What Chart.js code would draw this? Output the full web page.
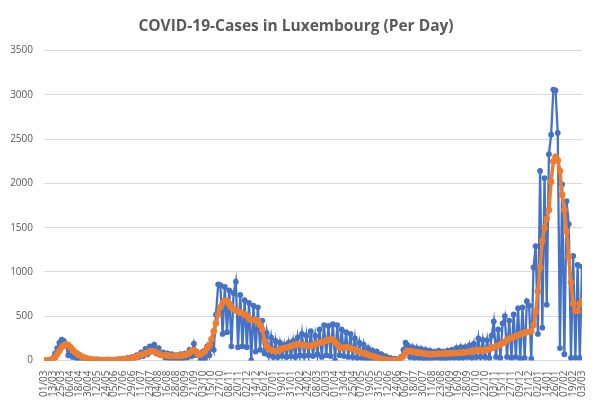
<!DOCTYPE html>
<html lang="en">
<head>
  <meta charset="UTF-8">
  <title>COVID-19-Cases in Luxembourg (Per Day)</title>
  <script src="https://cdn.jsdelivr.net/npm/chart.js"></script>
  <style>
    html, body {
      margin: 0;
      background: #fff;
    }
    #chartContainer {
      width: 597px;
      height: 405px;
    }
  </style>
</head>
<body>

<div id="chartContainer">
  <canvas id="casesChart" width="597" height="405"></canvas>
</div>

<script>
// one sample every 3 days, starting 01/03/2020
const dayStep = 3;

// daily cases (blue)
const dailyCases = [
  0, 0, 2, 5, 25, 80, 140, 200, 235, 220,
  170, 60, 150, 40, 90, 20, 60, 15, 30, 10,
  20, 5, 10, 3, 12, 2, 8, 5, 3, 8,
  5, 2, 10, 5, 15, 8, 20, 10, 30, 25,
  40, 20, 60, 40, 90, 50, 130, 70, 160, 120,
  180, 80, 140, 60, 90, 30, 80, 20, 70, 10,
  60, 20, 70, 10, 80, 30, 120, 50, 190, 60,
  80, 0, 100, 20, 160, 60, 220, 120, 520, 860,
  850, 300, 830, 320, 790, 160, 760, 890, 150, 740,
  160, 680, 150, 650, 0, 620, 100, 600, 120, 450,
  80, 310, 60, 260, 40, 220, 40, 200, 50, 180,
  40, 200, 50, 220, 40, 260, 60, 300, 50, 280,
  60, 330, 50, 280, 70, 350, 40, 400, 60, 390,
  50, 410, 0, 400, 60, 350, 50, 320, 40, 300,
  40, 250, 30, 200, 30, 180, 20, 140, 20, 110,
  15, 100, 10, 70, 10, 50, 5, 30, 5, 20,
  10, 20, 40, 120, 200, 170, 40, 150, 30, 140,
  30, 130, 20, 120, 20, 110, 20, 100, 30, 110,
  20, 100, 20, 110, 30, 120, 30, 140, 30, 150,
  30, 150, 40, 170, 30, 190, 40, 250, 40, 230,
  40, 230, 30, 280, 440, 40, 350, 30, 420, 500,
  40, 450, 30, 520, 40, 590, 20, 600, 30, 670,
  620, 20, 1050, 1290, 300, 2140, 370, 2060, 630, 2330,
  2550, 3060, 3050, 2570, 140, 1990, 70, 1800, 1540, 30,
  1180, 30, 1080, 30, 1060
];

// 7-day average (orange)
const averageCases = [
  0, 0, 1, 3, 10, 30, 70, 110, 150, 170,
  182, 175, 150, 120, 95, 75, 60, 45, 35, 25,
  18, 12, 10, 8, 7, 6, 5, 5, 5, 5,
  5, 5, 6, 7, 8, 10, 12, 15, 20, 25,
  30, 38, 45, 55, 65, 72, 80, 90, 100, 105,
  100, 90, 75, 65, 60, 58, 55, 52, 50, 50,
  50, 52, 55, 55, 60, 70, 85, 105, 115, 100,
  65, 70, 85, 105, 140, 170, 240, 330, 420, 520,
  600, 650, 675, 670, 640, 600, 580, 565, 555, 540,
  530, 520, 505, 470, 460, 455, 460, 440, 400, 350,
  220, 160, 130, 120, 110, 105, 110, 120, 130, 140,
  145, 150, 160, 170, 180, 182, 180, 175, 170, 165,
  163, 165, 170, 180, 190, 200, 205, 215, 225, 230,
  238, 235, 210, 182, 145, 140, 145, 150, 148, 140,
  130, 120, 110, 100, 90, 80, 72, 65, 55, 48,
  40, 32, 25, 18, 12, 8, 6, 5, 5, 5,
  5, 10, 20, 50, 90, 105, 105, 100, 95, 90,
  88, 85, 80, 75, 72, 70, 70, 72, 75, 75,
  75, 75, 78, 80, 80, 82, 85, 85, 85, 88,
  90, 92, 95, 100, 100, 105, 110, 115, 120, 110,
  115, 120, 130, 140, 150, 160, 170, 180, 195, 210,
  230, 245, 255, 265, 275, 285, 295, 305, 315, 320,
  325, 330, 400, 550, 780, 1050, 1350, 1500, 1600, 1700,
  2020, 2250, 2300, 2260, 2140, 1870, 1700, 1460, 1170, 880,
  640, 560, 560, 640, 670
];

// x axis labels, every 12 days
const tickLabels = [
  '01/03', '13/03', '25/03', '06/04', '18/04', '30/04', '12/05', '24/05', '05/06', '17/06',
  '29/06', '11/07', '23/07', '04/08', '16/08', '28/08', '09/09', '21/09', '03/10', '15/10',
  '27/10', '08/11', '20/11', '02/12', '14/12', '26/12', '07/01', '19/01', '31/01', '12/02',
  '24/02', '08/03', '20/03', '01/04', '13/04', '25/04', '07/05', '19/05', '31/05', '12/06',
  '24/06', '06/07', '18/07', '30/07', '11/08', '23/08', '04/09', '16/09', '28/09', '10/10',
  '22/10', '03/11', '15/11', '27/11', '09/12', '21/12', '02/01', '14/01', '26/01', '07/02',
  '19/02', '03/03'
];
const tickStep = 12;

const toPoints = arr => arr.map((v, i) => ({ x: i * dayStep, y: v }));

new Chart(document.getElementById('casesChart'), {
  type: 'line',
  data: {
    datasets: [
      {
        label: 'Average',
        data: toPoints(averageCases),
        borderColor: '#ED7D31',
        backgroundColor: '#ED7D31',
        borderWidth: 3.5,
        pointRadius: 3.3,
        pointBorderWidth: 0,
        order: 1
      },
      {
        label: 'Cases',
        data: toPoints(dailyCases),
        borderColor: '#4472C4',
        backgroundColor: '#4472C4',
        borderWidth: 2.3,
        pointRadius: 2.9,
        pointBorderWidth: 0,
        order: 2
      }
    ]
  },
  options: {
    responsive: false,
    animation: false,
    devicePixelRatio: 1,
    layout: { padding: { left: 10, right: 15, top: 0, bottom: 6 } },
    plugins: {
      legend: { display: false },
      tooltip: { enabled: false },
      title: {
        display: true,
        text: 'COVID-19-Cases in Luxembourg (Per Day)',
        color: '#595959',
        font: { family: 'Open Sans', size: 15.5, weight: 'bold' },
        padding: { top: 17, bottom: 15 }
      }
    },
    scales: {
      x: {
        type: 'linear',
        min: 0,
        max: (tickLabels.length - 1) * tickStep,
        grid: { display: false },
        border: { display: false },
        afterFit: s => { s.paddingLeft = 0; s.paddingRight = 0; },
        ticks: {
          stepSize: tickStep,
          maxTicksLimit: 100,
          autoSkip: false,
          maxRotation: 90,
          minRotation: 90,
          padding: 2,
          color: '#595959',
          font: { family: 'Open Sans', size: 10 },
          callback: v => tickLabels[Math.round(v / tickStep)]
        }
      },
      y: {
        min: 0,
        max: 3500,
        grid: { color: '#d9d9d9', drawTicks: false },
        border: { display: false },
        afterFit: s => { s.width = 34; },
        ticks: {
          stepSize: 500,
          padding: 11,
          color: '#595959',
          font: { family: 'Open Sans', size: 10 },
          callback: v => String(v)
        }
      }
    }
  }
});
</script>

</body>
</html>
